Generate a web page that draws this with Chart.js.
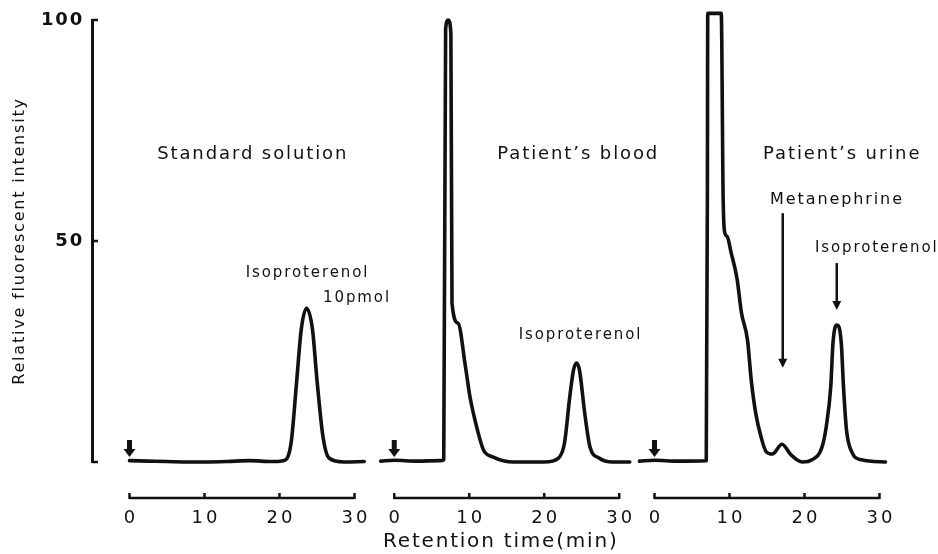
<!DOCTYPE html>
<html>
<head>
<meta charset="utf-8">
<script src="https://cdn.jsdelivr.net/npm/chart.js@4.4.1/dist/chart.umd.min.js"></script>
<style>
  html, body { margin: 0; background: #fff; }
</style>
</head>
<body>
<canvas id="chromChart" width="938" height="554"></canvas>
<script>
// retention time (min) and relative fluorescent intensity
const standardTime = [0, 2.5, 5, 8, 10, 13, 16, 19, 20.5, 21.1, 21.6, 22.3, 22.9, 23.6, 24.4, 25.0, 25.8, 26.6, 28.6, 31.3];
const standardIntensity = [0.3, 0.2, 0.1, 0, 0, 0.1, 0.3, 0.1, 0.3, 1.1, 5, 18.5, 30, 34.8, 30, 18.5, 5.7, 0.9, 0, 0.1];

const bloodTime = [-1.8, 0, 3, 6.1, 6.6, 6.85, 7.2, 7.55, 7.7, 8.5, 9.5, 10.1, 11.1, 11.9, 13.2, 15.9, 20, 21.9, 22.7, 23.4, 23.9, 24.3, 24.7, 25.4, 26.1, 27.3, 29.1, 31.4];
const bloodIntensity = [0.2, 0.4, 0.2, 0.3, 0.5, 98, 100, 97, 36, 31.4, 21.5, 14.7, 7.2, 2.7, 1.1, 0, 0, 0.9, 4.3, 14.7, 20.8, 22.4, 20.8, 11, 3.4, 0.9, 0, 0];

const urineTime = [-2, 0, 3, 6.9, 7.05, 7.1, 8.9, 9.15, 9.35, 9.7, 10.2, 11.0, 11.6, 12.4, 12.9, 13.5, 14.2, 14.9, 15.7, 17.0, 18.2, 19.7, 21.0, 22.3, 22.9, 23.5, 23.8, 24.3, 24.9, 25.2, 25.6, 26.3, 27.6, 30.8];
const urineIntensity = [0.2, 0.4, 0.2, 0.3, 60, 101.5, 101.5, 60, 52, 51, 47.5, 41.5, 33.7, 27.6, 18.5, 11, 5.7, 2.3, 1.8, 4, 1.6, 0, 0.5, 3.2, 8, 17, 27, 31, 27, 17, 7.2, 2.3, 0.5, 0];

const panelNames = ['Standard solution', 'Patient\u2019s blood', 'Patient\u2019s urine'];
const timeTicks = [0, 10, 20, 30];
const intensityTicks = [50, 100];

// layout: the three chromatograms share one time axis, each shifted right
const panelShift = [0, 35.3, 70];
const ink = '#111';
const family = '"DejaVu Sans", sans-serif';

// labels placed in (panel, minutes, intensity)
const notes = [
  { p: 0, t: 16.3, v: 69.5, text: panelNames[0], size: 18 },
  { p: 1, t: 24.4, v: 69.5, text: panelNames[1], size: 18 },
  { p: 2, t: 24.9, v: 69.5, text: panelNames[2], size: 18 },
  { p: 0, t: 23.6, v: 42.8, text: 'Isoproterenol', size: 15 },
  { p: 0, t: 30.2, v: 37.1, text: '10pmol', size: 15 },
  { p: 1, t: 24.7, v: 28.7, text: 'Isoproterenol', size: 15 },
  { p: 2, t: 24.2, v: 59.3, text: 'Metanephrine', size: 16 },
  { p: 2, t: 29.5, v: 48.4, text: 'Isoproterenol', size: 15 },
];
const pointers = [
  { p: 2, t: 17.1, from: 56.3, to: 21.3 },
  { p: 2, t: 24.3, from: 45, to: 34.4 },
];

Chart.defaults.font.family = family;
Chart.defaults.color = ink;

const series = (times, values, shift) => times.map((t, i) => ({ x: t + shift, y: values[i] }));

const trace = (data) => ({
  data,
  borderColor: ink,
  borderWidth: 3.6,
  pointRadius: 0,
  fill: false,
  cubicInterpolationMode: 'monotone',
  borderJoinStyle: 'round',
  borderCapStyle: 'round',
  clip: false,
});

function downArrow(ctx, x, tipY, len, stem, head, headLen) {
  ctx.fillRect(x - stem / 2, tipY - len, stem, len - headLen + 1);
  ctx.beginPath();
  ctx.moveTo(x - head / 2, tipY - headLen);
  ctx.lineTo(x + head / 2, tipY - headLen);
  ctx.lineTo(x, tipY);
  ctx.closePath();
  ctx.fill();
}

const chromDecor = {
  id: 'chromDecor',
  beforeDraw(chart) {
    chart.ctx.letterSpacing = '1.8px';
  },
  afterDraw(chart) {
    const { ctx, chartArea, scales: { x, y } } = chart;
    const px = (p, t) => x.getPixelForValue(t + panelShift[p]);
    ctx.save();
    ctx.strokeStyle = ink;
    ctx.fillStyle = ink;

    // short inward ticks on the intensity axis
    ctx.lineWidth = 2.5;
    [0].concat(intensityTicks).forEach((v) => {
      const yy = y.getPixelForValue(v);
      ctx.beginPath();
      ctx.moveTo(chartArea.left, yy);
      ctx.lineTo(chartArea.left + 6, yy);
      ctx.stroke();
    });

    // a time scale under each chromatogram
    const axisY = chartArea.bottom + 36;
    panelShift.forEach((_s, p) => {
      ctx.lineWidth = 2.5;
      ctx.beginPath();
      ctx.moveTo(px(p, timeTicks[0]), axisY);
      ctx.lineTo(px(p, timeTicks[timeTicks.length - 1]), axisY);
      ctx.stroke();
      timeTicks.forEach((t) => {
        ctx.beginPath();
        ctx.moveTo(px(p, t), axisY + 1);
        ctx.lineTo(px(p, t), axisY - 5);
        ctx.stroke();
      });
      ctx.font = '18px ' + family;
      ctx.letterSpacing = '3px';
      ctx.textAlign = 'center';
      ctx.textBaseline = 'middle';
      timeTicks.forEach((t) => ctx.fillText(String(t), px(p, t) + 1.5, axisY + 20));

      // injection mark at 0 min
      downArrow(ctx, px(p, 0), chartArea.bottom - 5, 17, 5, 12, 8);
    });

    // labels
    ctx.textAlign = 'center';
    ctx.textBaseline = 'middle';
    notes.forEach((n) => {
      ctx.font = n.size + 'px ' + family;
      ctx.letterSpacing = '1.9px';
      ctx.fillText(n.text, px(n.p, n.t) + 1, y.getPixelForValue(n.v));
    });

    // pointer arrows in the urine trace
    ctx.lineWidth = 2.5;
    pointers.forEach((a) => {
      const ax = px(a.p, a.t);
      const y0 = y.getPixelForValue(a.from);
      const y1 = y.getPixelForValue(a.to);
      ctx.beginPath();
      ctx.moveTo(ax, y0);
      ctx.lineTo(ax, y1 - 8);
      ctx.stroke();
      ctx.beginPath();
      ctx.moveTo(ax - 4.5, y1 - 9);
      ctx.lineTo(ax + 4.5, y1 - 9);
      ctx.lineTo(ax, y1);
      ctx.closePath();
      ctx.fill();
    });
    ctx.restore();
  },
};

new Chart(document.getElementById('chromChart'), {
  type: 'line',
  data: {
    datasets: [
      trace(series(standardTime, standardIntensity, panelShift[0])),
      trace(series(bloodTime, bloodIntensity, panelShift[1])),
      trace(series(urineTime, urineIntensity, panelShift[2])),
    ],
  },
  options: {
    responsive: false,
    animation: false,
    devicePixelRatio: 1,
    layout: { padding: { top: 20, right: 28.5, left: 0, bottom: 0 } },
    plugins: { legend: { display: false }, tooltip: { enabled: false } },
    scales: {
      x: {
        type: 'linear',
        min: -5,
        max: 104,
        grid: { display: false },
        border: { display: false },
        ticks: { display: false },
        title: {
          display: true,
          text: 'Retention time(min)',
          font: { size: 20 },
          color: ink,
          padding: { top: 0, bottom: 0 },
        },
        afterFit: (s) => { s.height = 92; },
      },
      y: {
        min: 0,
        max: 100,
        afterBuildTicks: (s) => { s.ticks = intensityTicks.map((v) => ({ value: v })); },
        ticks: { font: { size: 18, weight: 'bold' }, color: ink, padding: 8 },
        grid: { drawOnChartArea: false, drawTicks: false },
        border: { display: true, color: ink, width: 3 },
        title: {
          display: true,
          text: 'Relative fluorescent intensity',
          font: { size: 16 },
          color: ink,
          padding: { top: 10, bottom: 0 },
        },
        afterFit: (s) => { s.width = 92; },
      },
    },
  },
  plugins: [chromDecor],
});
</script>
</body>
</html>
